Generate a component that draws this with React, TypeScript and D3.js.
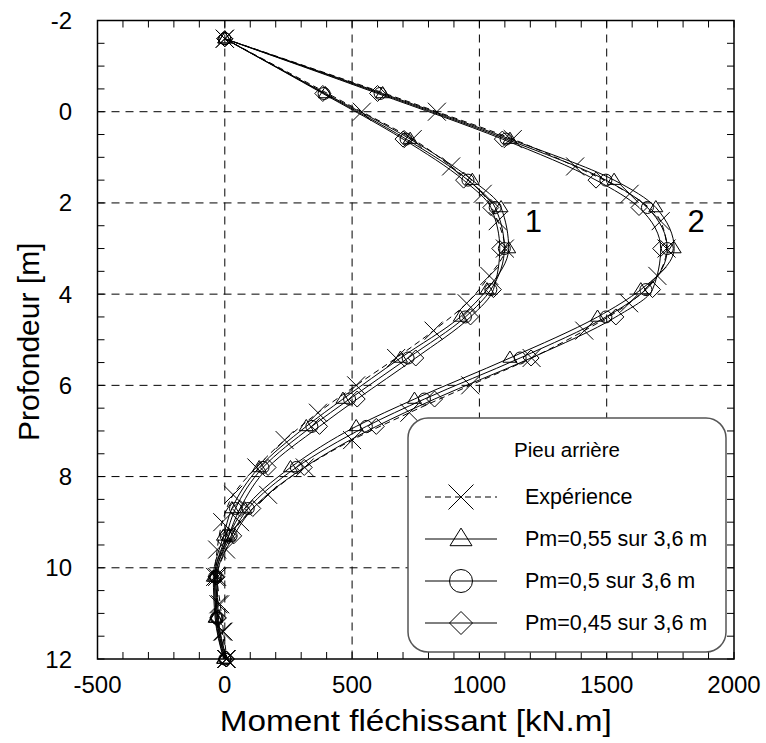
import React from "react";
import * as d3 from "d3";

const W = 766;
const H = 743;

// Depths (m)
const depthsModel = [-1.6, -0.4, 0.6, 1.5, 2.1, 3.0, 3.9, 4.5, 5.4, 6.3, 6.9, 7.8, 8.7, 9.3, 10.2, 11.1, 12.0];
const depthsExp = [-1.6, 0, 0.6, 1.2, 1.8, 2.4, 3.0, 3.6, 4.2, 4.8, 5.4, 6.0, 6.6, 7.2, 7.8, 8.4, 9.0, 9.6, 10.2, 10.8, 11.4, 12.0];

// Curve 1
const exp1 = [0, 538, 738, 889, 1013, 1072, 1100, 1039, 950, 820, 673, 516, 366, 235, 124, 33, -10, -30, -38, -25, -10, 5];
const tri1 = [0, 395, 728, 972, 1085, 1115, 1030, 925, 690, 464, 320, 135, 28, -5, -45, -38, -5];
const circ1 = [0, 390, 712, 955, 1062, 1098, 1045, 945, 720, 490, 342, 150, 42, 5, -40, -33, 0];
const diam1 = [0, 385, 700, 938, 1045, 1080, 1055, 965, 750, 520, 372, 170, 60, 15, -35, -28, 5];

// Curve 2
const exp2 = [0, 833, 1131, 1376, 1590, 1712, 1735, 1699, 1588, 1412, 1205, 964, 725, 500, 314, 170, 60, 5, -30, -18, -5, 8];
const tri2 = [0, 620, 1120, 1529, 1693, 1765, 1634, 1464, 1120, 745, 516, 258, 78, 15, -40, -35, -3];
const circ2 = [0, 610, 1105, 1497, 1660, 1738, 1654, 1497, 1160, 784, 556, 281, 92, 25, -35, -30, 2];
const diam2 = [0, 600, 1090, 1458, 1627, 1712, 1680, 1536, 1203, 824, 595, 312, 110, 35, -30, -25, 7];

const xTicks = [-500, 0, 500, 1000, 1500, 2000];
const yTicks = [-2, 0, 2, 4, 6, 8, 10, 12];
const legendTitle = "Pieu arrière";
const legendLabels = ["Expérience", "Pm=0,55 sur 3,6 m", "Pm=0,5 sur 3,6 m", "Pm=0,45 sur 3,6 m"];
const curveLabels = [
  { text: "1", m: 1212, d: 2.4 },
  { text: "2", m: 1851, d: 2.4 },
];

const FONT = "'Liberation Sans', Arial, Helvetica, sans-serif";

const margin = { left: 97.5, right: 734, top: 20.5, bottom: 659 };
const x = d3.scaleLinear().domain([-500, 2000]).range([margin.left, margin.right]);
const y = d3.scaleLinear().domain([-2, 12]).range([margin.top, margin.bottom]);

type Mk = "x" | "tri" | "circ" | "diam";

function markerPath(type: Mk, s: number): string {
  if (type === "x") return `M${-s},${-s}L${s},${s}M${-s},${s}L${s},${-s}`;
  if (type === "tri") {
    const h = s * 1.6;
    return `M0,${-h * 0.62}L${s},${h * 0.38}L${-s},${h * 0.38}Z`;
  }
  if (type === "diam") return `M0,${-s}L${s},0L0,${s}L${-s},0Z`;
  return "";
}

function Marker({ type, cx, cy, s }: { type: Mk; cx: number; cy: number; s: number }) {
  if (type === "circ")
    return <circle cx={cx} cy={cy} r={s} fill="none" stroke="#000" strokeWidth={1} />;
  return (
    <path
      d={markerPath(type, s)}
      transform={`translate(${cx},${cy})`}
      fill="none"
      stroke="#000"
      strokeWidth={1}
    />
  );
}

const line = d3
  .line<[number, number]>()
  .x((p) => x(p[0]))
  .y((p) => y(p[1]))
  .curve(d3.curveMonotoneY);

interface Series {
  vals: number[];
  depths: number[];
  type: Mk;
  dashed: boolean;
  size: number;
}

const series: Series[] = [
  { vals: exp1, depths: depthsExp, type: "x", dashed: true, size: 9 },
  { vals: exp2, depths: depthsExp, type: "x", dashed: true, size: 9 },
  { vals: tri1, depths: depthsModel, type: "tri", dashed: false, size: 7 },
  { vals: tri2, depths: depthsModel, type: "tri", dashed: false, size: 7 },
  { vals: circ1, depths: depthsModel, type: "circ", dashed: false, size: 6 },
  { vals: circ2, depths: depthsModel, type: "circ", dashed: false, size: 6 },
  { vals: diam1, depths: depthsModel, type: "diam", dashed: false, size: 8 },
  { vals: diam2, depths: depthsModel, type: "diam", dashed: false, size: 8 },
];

export default function App() {
  const xMinor = d3.range(-500, 2001, 100);
  const yMinor = d3.range(-2, 12.01, 0.5);
  const legendTypes: Mk[] = ["x", "tri", "circ", "diam"];
  const lg = { x0: 408, y0: 418, x1: 726, y1: 652 };
  const rowY = [497, 539, 581, 623];

  return (
    <svg
      width={W}
      height={H}
      style={{ position: "absolute", left: 0, top: 0, background: "#fff" }}
      fontFamily={FONT}
    >
      <rect x={0} y={0} width={W} height={H} fill="#fff" />
      {/* grid */}
      {xTicks.slice(1, -1).map((t) => (
        <line key={"gx" + t} x1={x(t)} x2={x(t)} y1={margin.top} y2={margin.bottom} stroke="#000" strokeWidth={1} strokeDasharray="8,6" />
      ))}
      {yTicks.slice(1, -1).map((t) => (
        <line key={"gy" + t} x1={margin.left} x2={margin.right} y1={y(t)} y2={y(t)} stroke="#000" strokeWidth={1} strokeDasharray="8,6" />
      ))}
      {/* minor ticks */}
      {xMinor.map((t) => (
        <g key={"mx" + t}>
          <line x1={x(t)} x2={x(t)} y1={margin.top} y2={margin.top + 7} stroke="#000" strokeWidth={1} />
          <line x1={x(t)} x2={x(t)} y1={margin.bottom} y2={margin.bottom - 7} stroke="#000" strokeWidth={1} />
        </g>
      ))}
      {yMinor.map((t) => (
        <g key={"my" + t}>
          <line x1={margin.left} x2={margin.left + 7} y1={y(t)} y2={y(t)} stroke="#000" strokeWidth={1} />
          <line x1={margin.right} x2={margin.right - 7} y1={y(t)} y2={y(t)} stroke="#000" strokeWidth={1} />
        </g>
      ))}
      {/* frame */}
      <rect
        x={margin.left}
        y={margin.top}
        width={margin.right - margin.left}
        height={margin.bottom - margin.top}
        fill="none"
        stroke="#000"
        strokeWidth={1.5}
      />
      {/* series */}
      {series.map((s, i) => {
        const pts = s.vals.map((v, j) => [v, s.depths[j]] as [number, number]);
        return (
          <g key={"s" + i}>
            <path d={line(pts) || ""} fill="none" stroke="#000" strokeWidth={1} strokeDasharray={s.dashed ? "6,4" : undefined} />
            {pts.map((p, j) => (
              <Marker key={j} type={s.type} cx={x(p[0])} cy={y(p[1])} s={s.size} />
            ))}
          </g>
        );
      })}
      {/* curve labels */}
      {curveLabels.map((c) => (
        <text key={c.text} x={x(c.m)} y={y(c.d)} fontSize={31} textAnchor="middle" dominantBaseline="central">
          {c.text}
        </text>
      ))}
      {/* tick labels */}
      {xTicks.map((t) => (
        <text key={"xl" + t} x={x(t)} y={693} fontSize={24} textAnchor="middle">
          {t}
        </text>
      ))}
      {yTicks.map((t) => (
        <text key={"yl" + t} x={72} y={y(t)} fontSize={24} textAnchor="end" dominantBaseline="central">
          {t}
        </text>
      ))}
      {/* axis titles */}
      <text
        x={(margin.left + margin.right) / 2}
        y={731}
        fontSize={30}
        textAnchor="middle"
        textLength={392}
        lengthAdjust="spacingAndGlyphs"
      >
        Moment fléchissant [kN.m]
      </text>
      <text
        transform={`translate(28,${(margin.top + margin.bottom) / 2 + 2}) rotate(-90)`}
        fontSize={30}
        textAnchor="middle"
        dominantBaseline="central"
      >
        Profondeur [m]
      </text>
      {/* legend */}
      <rect x={lg.x0} y={lg.y0} width={lg.x1 - lg.x0} height={lg.y1 - lg.y0} rx={20} ry={20} fill="#fff" stroke="#555" strokeWidth={1.5} />
      <text x={(lg.x0 + lg.x1) / 2} y={449} fontSize={20.5} textAnchor="middle" dominantBaseline="central">
        {legendTitle}
      </text>
      {legendLabels.map((lab, i) => (
        <g key={"lg" + i}>
          <line x1={425} x2={497} y1={rowY[i]} y2={rowY[i]} stroke="#000" strokeWidth={1} strokeDasharray={i === 0 ? "6,4" : undefined} />
          <Marker type={legendTypes[i]} cx={461} cy={rowY[i]} s={i === 0 ? 12.5 : i === 1 ? 11 : 11.5} />
          <text x={525} y={rowY[i]} fontSize={21.5} dominantBaseline="central">
            {lab}
          </text>
        </g>
      ))}
    </svg>
  );
}
